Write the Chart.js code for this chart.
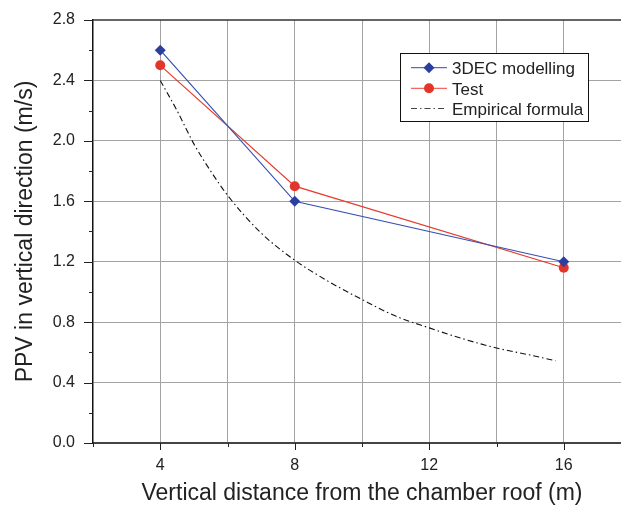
<!DOCTYPE html>
<html>
<head>
<meta charset="utf-8">
<script src="https://cdn.jsdelivr.net/npm/chart.js@4.4.1/dist/chart.umd.min.js"></script>
<style>
  html, body { margin: 0; padding: 0; background: #fff; overflow: hidden; }
  #wrap { width: 640px; height: 507px; }
</style>
</head>
<body>
<div id="wrap"><canvas id="c" width="640" height="507"></canvas></div>
<script>
// ---- data ----
const distances = [4, 8, 16];
const modelValues = [2.6, 1.6, 1.2];
const testValues = [2.5, 1.7, 1.16];
const empiricalDistances = [4, 4.5, 5, 5.5, 6, 7, 8, 9, 10, 11, 12, 13, 14, 15, 15.76];
const empiricalValues = [2.40, 2.20, 1.98, 1.80, 1.64, 1.39, 1.21, 1.07, 0.95, 0.84, 0.762, 0.69, 0.629, 0.582, 0.544];
const seriesNames = ['3DEC modelling', 'Test', 'Empirical formula'];
const xTickLabels = [4, 8, 12, 16];
const yTickLabels = [0.0, 0.4, 0.8, 1.2, 1.6, 2.0, 2.4, 2.8];
const xTitle = 'Vertical distance from the chamber roof (m)';
const yTitle = 'PPV in vertical direction (m/s)';

const FONT = '"Liberation Sans", Arial, Helvetica, sans-serif';
Chart.defaults.font.family = FONT;
Chart.defaults.color = '#222';

const toPts = (xs, ys) => xs.map((x, i) => ({x: x, y: ys[i]}));
const GRID = '#a3a3a3';
const CLEAR = 'rgba(0,0,0,0)';

function isMajorY(v) { return Math.round(v / 0.2) % 2 === 0; }

const decoPlugin = {
  id: 'deco',
  afterDraw(chart) {
    const ctx = chart.ctx;
    const a = chart.chartArea;
    const xs = chart.scales.x, ys = chart.scales.y;
    ctx.save();
    // top frame line
    ctx.strokeStyle = '#333';
    ctx.lineWidth = 1.5;
    ctx.beginPath();
    ctx.moveTo(a.left, a.top);
    ctx.lineTo(a.right, a.top);
    ctx.stroke();
    // tick marks (outward, major and minor)
    ctx.strokeStyle = '#222';
    ctx.lineWidth = 1;
    for (let i = 0; i <= 14; i++) {
      const v = i * 0.2;
      const py = Math.round(ys.getPixelForValue(v)) + 0.5;
      const len = isMajorY(v) ? 9 : 4;
      ctx.beginPath();
      ctx.moveTo(a.left - len, py);
      ctx.lineTo(a.left, py);
      ctx.stroke();
    }
    for (let v = 2; v <= 18; v += 2) {
      const px = Math.round(xs.getPixelForValue(v)) + 0.5;
      const len = (xTickLabels.indexOf(v) >= 0) ? 7 : 4;
      ctx.beginPath();
      ctx.moveTo(px, a.bottom);
      ctx.lineTo(px, a.bottom + len);
      ctx.stroke();
    }
    // legend
    const bx = 400.5, by = 53.5, bw = 188, bh = 68;
    ctx.fillStyle = '#fff';
    ctx.fillRect(bx, by, bw, bh);
    ctx.strokeStyle = '#111';
    ctx.lineWidth = 1;
    ctx.strokeRect(bx, by, bw, bh);
    const rowsMid = [67.7, 88.3, 108.5];
    const rowsBase = [74, 94.5, 115];
    chart.data.datasets.forEach((ds, i) => {
      const cy = rowsMid[i];
      ctx.save();
      ctx.strokeStyle = ds.legendLine || ds.borderColor;
      ctx.lineWidth = ds.borderWidth;
      ctx.setLineDash(ds.borderDash || []);
      ctx.beginPath();
      ctx.moveTo(411, cy);
      ctx.lineTo(447, cy);
      ctx.stroke();
      ctx.restore();
      if (ds.pointRadius > 0) {
        ctx.fillStyle = ds.pointBackgroundColor;
        ctx.beginPath();
        if (ds.pointStyle === 'rectRot') {
          const r = ds.pointRadius;
          ctx.moveTo(429, cy - r);
          ctx.lineTo(429 + r, cy);
          ctx.lineTo(429, cy + r);
          ctx.lineTo(429 - r, cy);
          ctx.closePath();
        } else {
          ctx.arc(429, cy, ds.pointRadius, 0, Math.PI * 2);
        }
        ctx.fill();
      }
      ctx.fillStyle = '#222';
      ctx.font = '17px ' + FONT;
      ctx.textBaseline = 'alphabetic';
      ctx.textAlign = 'left';
      ctx.fillText(ds.label, 452, rowsBase[i]);
    });
    ctx.restore();
  }
};

new Chart(document.getElementById('c'), {
  type: 'line',
  data: {
    datasets: [
      {
        label: seriesNames[0],
        data: toPts(distances, modelValues),
        borderColor: '#3a4fb0',
        legendLine: '#5a6cc0',
        borderWidth: 1.2,
        pointStyle: 'rectRot',
        pointRadius: 5.5,
        pointHoverRadius: 5.5,
        pointBackgroundColor: '#2c3f9f',
        pointBorderWidth: 0,
        pointBorderColor: '#2c3f9f',
        tension: 0
      },
      {
        label: seriesNames[1],
        data: toPts(distances, testValues),
        borderColor: '#e53a2c',
        legendLine: '#ee6a5e',
        borderWidth: 1.2,
        pointStyle: 'circle',
        pointRadius: 5,
        pointHoverRadius: 5,
        pointBackgroundColor: '#e3352a',
        pointBorderWidth: 0,
        pointBorderColor: '#e3352a',
        tension: 0
      },
      {
        label: seriesNames[2],
        data: toPts(empiricalDistances, empiricalValues),
        borderColor: '#111',
        legendLine: '#444',
        borderWidth: 1.1,
        borderDash: [6, 3, 1.5, 3],
        pointRadius: 0,
        cubicInterpolationMode: 'monotone'
      }
    ]
  },
  options: {
    responsive: false,
    animation: false,
    events: [],
    layout: { padding: { left: 0, top: 20, right: 9, bottom: 0 } },
    plugins: { legend: { display: false }, tooltip: { enabled: false } },
    scales: {
      x: {
        type: 'linear',
        min: 2, max: 18,
        afterFit: s => { s.height = 64; },
        ticks: {
          stepSize: 2,
          padding: 0,
          maxRotation: 0,
          autoSkip: false,
          font: { size: 16 },
          color: '#222',
          callback: v => (xTickLabels.indexOf(v) >= 0 ? String(v) : '')
        },
        grid: {
          drawTicks: true,
          tickLength: 13,
          tickColor: CLEAR,
          lineWidth: 1,
          color: c => (c.tick && [4, 6, 8, 10, 12, 14, 16].indexOf(c.tick.value) >= 0 ? GRID : CLEAR)
        },
        border: { display: true, color: '#444', width: 2 },
        title: {
          display: true,
          text: xTitle,
          font: { size: 23 },
          color: '#222',
          padding: { top: 0, bottom: 0 }
        }
      },
      y: {
        type: 'linear',
        min: 0, max: 2.8,
        afterFit: s => { s.width = 93; },
        ticks: {
          stepSize: 0.2,
          padding: 0,
          autoSkip: false,
          font: { size: 16 },
          color: '#222',
          callback: v => {
            const m = yTickLabels.find(t => Math.abs(t - v) < 1e-6);
            return m === undefined ? '' : m.toFixed(1);
          }
        },
        grid: {
          drawTicks: true,
          tickLength: 18,
          tickColor: CLEAR,
          lineWidth: 1,
          color: c => {
            if (!c.tick) return CLEAR;
            const v = c.tick.value;
            return (isMajorY(v) && v > 0.01 && v < 2.79) ? GRID : CLEAR;
          }
        },
        border: { display: true, color: '#111', width: 1.5 },
        title: {
          display: true,
          text: yTitle,
          font: { size: 23 },
          color: '#222',
          padding: { top: 12, bottom: 0 }
        }
      }
    }
  },
  plugins: [decoPlugin]
});
</script>
</body>
</html>
